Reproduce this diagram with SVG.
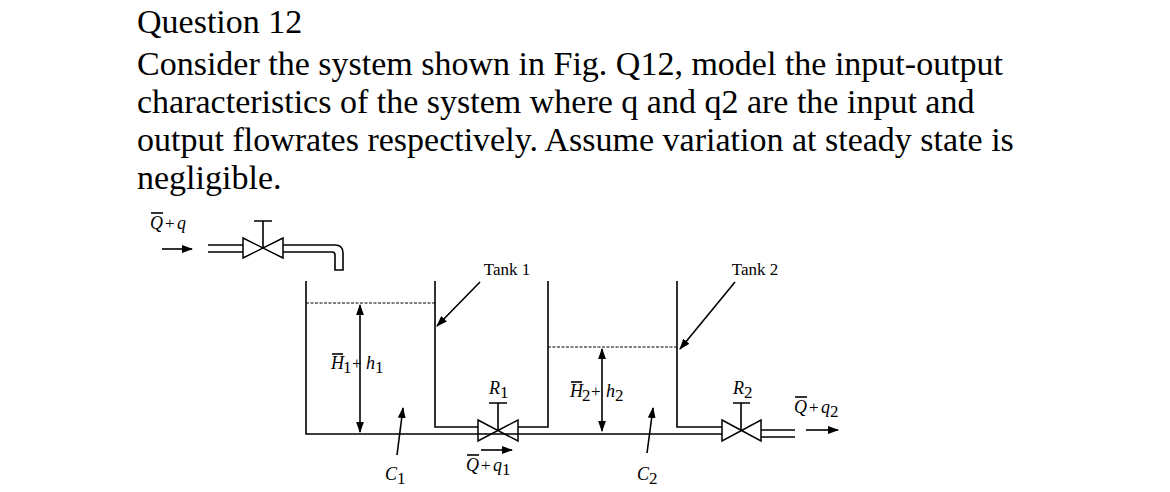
<svg xmlns="http://www.w3.org/2000/svg" width="1170" height="492" viewBox="0 0 1170 492">
<style>
.t{font-family:"Liberation Serif","Times New Roman",serif;font-size:34px;fill:#000}
.l{font-family:"Liberation Serif","Times New Roman",serif;font-size:17px;fill:#000}
.i{font-family:"Liberation Serif","Times New Roman",serif;font-size:18px;font-style:italic;fill:#000}
.s{stroke:#000;stroke-width:1.6;fill:none}
.w{stroke:#000;stroke-width:1;fill:none;stroke-dasharray:3 1.5}
.v{stroke:#000;stroke-width:1.5;fill:#fff}
</style>
<defs>
<marker id="a" viewBox="0 0 10 10" refX="9" refY="5" markerWidth="7" markerHeight="7" orient="auto-start-reverse"><path d="M0,1.5 L10,5 L0,8.5 z" fill="#000"/></marker>
</defs>
<rect width="1170" height="492" fill="#fff"/>
<g id="question">
<text class="t" x="137" y="33">Question 12</text>
<text class="t" x="137" y="75">Consider the system shown in Fig. Q12, model the input-output</text>
<text class="t" x="137" y="113">characteristics of the system where q and q2 are the input and</text>
<text class="t" x="137" y="151">output flowrates respectively. Assume variation at steady state is</text>
<text class="t" x="137" y="189">negligible.</text>
</g>
<g id="inlet">
<text class="i" x="150" y="229">Q</text><text class="l" x="165" y="229">+</text><text class="i" x="177" y="229">q</text>
<line class="s" x1="151" y1="213" x2="163" y2="213" stroke-width="1.2"/>
<path class="s" d="M208,245 H243 M208,252 H243 M283,245 H335 Q343,245 343,253 V270 H335 V255 Q335,252 332,252 H283"/>
<path class="v" d="M243,238 L283,258 L283,238 L243,258 Z"/>
<path class="s" d="M263,248 V221 M254,221 H272"/>
</g>
<g id="tank1">
<path class="s" d="M306,281 V434 H478 M435,281 V427 H478"/>
<line class="w" x1="306" y1="303" x2="435" y2="303"/>
<text class="l" x="507" y="275" text-anchor="middle">Tank 1</text>
<text class="i" x="331" y="369">H</text><line class="s" x1="332" y1="354" x2="343" y2="354" stroke-width="1.2"/>
<text class="l" x="343" y="373" font-size="12">1</text>
<text class="l" x="352" y="369">+</text>
<text class="i" x="366" y="369">h</text><text class="l" x="375" y="373" font-size="12">1</text>
<text class="i" x="385" y="480">C</text><text class="l" x="397" y="484" font-size="12">1</text>
</g>
<g id="valveR1">
<path class="v" d="M478,420 L518,441 L518,420 L478,441 Z"/>
<path class="s" d="M498,430 V403 M489,403 H507"/>
<text class="i" x="489" y="394">R</text><text class="l" x="500" y="398" font-size="12">1</text>
<text class="i" x="466" y="471">Q</text><text class="l" x="481" y="471">+</text><text class="i" x="493" y="471">q</text>
<line class="s" x1="467" y1="455" x2="479" y2="455" stroke-width="1.2"/>
<text class="l" x="502" y="475" font-size="12">1</text>
</g>
<g id="tank2">
<path class="s" d="M518,427 H548 V281 M478,434 H722 M677,281 V427 H722"/>
<line class="w" x1="548" y1="347" x2="677" y2="347"/>
<text class="l" x="755" y="275" text-anchor="middle">Tank 2</text>
<text class="i" x="570" y="397">H</text><line class="s" x1="571" y1="382" x2="582" y2="382" stroke-width="1.2"/>
<text class="l" x="582" y="401" font-size="12">2</text>
<text class="l" x="591" y="397">+</text>
<text class="i" x="606" y="397">h</text><text class="l" x="615" y="401" font-size="12">2</text>
<text class="i" x="637" y="480">C</text><text class="l" x="649" y="484" font-size="12">2</text>
</g>
<g id="valveR2">
<path class="v" d="M722,420 L761,441 L761,420 L722,441 Z"/>
<path class="s" d="M741,430 V403 M733,403 H750"/>
<path class="s" d="M761,430 H795 M761,437 H795"/>
<text class="i" x="733" y="394">R</text><text class="l" x="744" y="398" font-size="12">2</text>
<text class="i" x="794" y="413">Q</text><text class="l" x="809" y="413">+</text><text class="i" x="821" y="413">q</text>
<line class="s" x1="795" y1="397" x2="807" y2="397" stroke-width="1.2"/>
<text class="l" x="830" y="417" font-size="12">2</text>
</g>
<g id="connectors">
<line class="s" x1="162" y1="249" x2="192" y2="249" stroke-width="1.2" marker-end="url(#a)"/>
<line class="s" x1="360" y1="305" x2="360" y2="432" stroke-width="1.2" marker-start="url(#a)" marker-end="url(#a)"/>
<line class="s" x1="602" y1="349" x2="602" y2="431" stroke-width="1.2" marker-start="url(#a)" marker-end="url(#a)"/>
<line class="s" x1="397" y1="455" x2="403" y2="408" stroke-width="1.2" marker-end="url(#a)"/>
<line class="s" x1="647" y1="453" x2="653" y2="408" stroke-width="1.2" marker-end="url(#a)"/>
<line class="s" x1="480" y1="282" x2="437" y2="326" stroke-width="1.2" marker-end="url(#a)"/>
<line class="s" x1="735" y1="282" x2="680" y2="349" stroke-width="1.2" marker-end="url(#a)"/>
<line class="s" x1="481" y1="450" x2="512" y2="450" stroke-width="1.2" marker-end="url(#a)"/>
<line class="s" x1="806" y1="430" x2="838" y2="430" stroke-width="1.2" marker-end="url(#a)"/>
</g>
</svg>
